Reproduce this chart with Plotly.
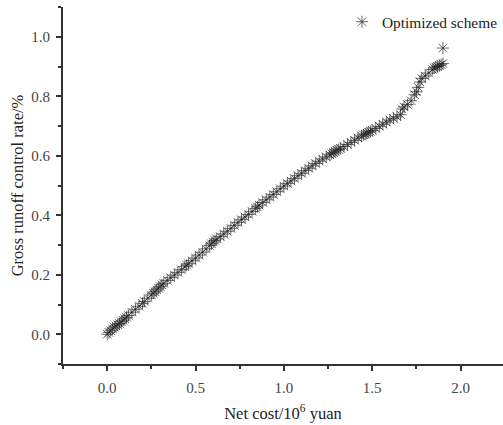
import plotly.graph_objects as go

net_cost = [0.00, 0.01, 0.02, 0.03, 0.04, 0.05, 0.06, 0.07, 0.08, 0.09, 0.10, 0.11, 0.12, 0.14, 0.16, 0.18,
            0.20, 0.21, 0.23, 0.25, 0.26, 0.27, 0.28, 0.29, 0.30, 0.31, 0.32, 0.34, 0.36, 0.38, 0.40, 0.42,
            0.44, 0.45, 0.46, 0.48, 0.50, 0.52, 0.54, 0.56, 0.58, 0.59, 0.60, 0.61, 0.62, 0.64, 0.66, 0.68,
            0.70, 0.72, 0.74, 0.76, 0.78, 0.80, 0.82, 0.84, 0.85, 0.86, 0.88, 0.90, 0.92, 0.94, 0.96, 0.98,
            1.00, 1.02, 1.04, 1.06, 1.08, 1.10, 1.12, 1.14, 1.16, 1.18, 1.20, 1.22, 1.24, 1.26, 1.27, 1.28,
            1.29, 1.30, 1.31, 1.32, 1.34, 1.36, 1.38, 1.40, 1.42, 1.44, 1.45, 1.46, 1.47, 1.48, 1.49, 1.50,
            1.52, 1.54, 1.56, 1.58, 1.60, 1.62, 1.64, 1.66, 1.67, 1.68, 1.70, 1.72, 1.74, 1.75, 1.76, 1.77,
            1.78, 1.80, 1.82, 1.84, 1.85, 1.86, 1.87, 1.88, 1.89, 1.90, 1.90]

runoff_rate = [0.000, 0.006, 0.012, 0.018, 0.024, 0.028, 0.032, 0.036, 0.042, 0.047, 0.052, 0.057, 0.063, 0.074, 0.084, 0.094,
               0.104, 0.110, 0.121, 0.132, 0.138, 0.143, 0.149, 0.155, 0.160, 0.166, 0.171, 0.181, 0.190, 0.199, 0.208, 0.217,
               0.227, 0.232, 0.237, 0.247, 0.256, 0.266, 0.276, 0.287, 0.298, 0.304, 0.310, 0.315, 0.320, 0.328, 0.337, 0.346,
               0.356, 0.366, 0.376, 0.385, 0.394, 0.403, 0.413, 0.423, 0.428, 0.434, 0.443, 0.452, 0.461, 0.470, 0.479, 0.489,
               0.498, 0.507, 0.515, 0.524, 0.533, 0.541, 0.550, 0.558, 0.566, 0.574, 0.582, 0.589, 0.596, 0.603, 0.607, 0.611,
               0.615, 0.618, 0.621, 0.625, 0.631, 0.638, 0.645, 0.652, 0.660, 0.666, 0.670, 0.673, 0.676, 0.679, 0.682, 0.685,
               0.692, 0.699, 0.706, 0.713, 0.720, 0.726, 0.731, 0.738, 0.757, 0.764, 0.772, 0.785, 0.805, 0.815, 0.830, 0.848,
               0.860, 0.868, 0.878, 0.890, 0.895, 0.898, 0.900, 0.903, 0.906, 0.910, 0.962]

x_ticks = [0.0, 0.5, 1.0, 1.5, 2.0]
y_ticks = [0.0, 0.2, 0.4, 0.6, 0.8, 1.0]

FONT = "Liberation Serif"
INK = "#333333"

fig = go.Figure()
fig.add_trace(go.Scatter(
    x=net_cost, y=runoff_rate, mode="markers", name="Optimized scheme",
    marker=dict(symbol="asterisk-open", size=10, color="rgba(40,40,40,0.7)",
                line=dict(width=1, color="rgba(40,40,40,0.7)")),
))

fig.update_layout(
    width=503, height=425,
    margin=dict(l=63, r=0, t=7, b=61),
    paper_bgcolor="white", plot_bgcolor="white",
    font=dict(family=FONT, size=15, color=INK),
    showlegend=True,
    legend=dict(x=1.0, y=1.005, xanchor="right", yanchor="top",
                font=dict(family=FONT, size=15.4, color="#222"),
                bgcolor="rgba(0,0,0,0)", itemwidth=30),
    xaxis=dict(range=[-0.25, 2.24], tickvals=x_ticks, ticktext=[f"{v:.1f}" for v in x_ticks],
               showline=True, linecolor=INK, linewidth=2, ticks="outside", ticklen=5, tickwidth=1.5,
               tickcolor=INK, showgrid=False, zeroline=False, ticklabelstandoff=4,
               tickfont=dict(size=15, family=FONT, color="#444"),
               minor=dict(tickvals=[-0.25, 0.25, 0.75, 1.25, 1.75], ticks="outside", ticklen=3, tickwidth=1.5, tickcolor=INK),
               title=dict(text="Net cost/10<sup>6</sup> yuan", font=dict(size=16.5, family=FONT, color="#222"), standoff=12)),
    yaxis=dict(range=[-0.1, 1.1], tickvals=y_ticks, ticktext=[f"{v:.1f}" for v in y_ticks],
               showline=True, linecolor=INK, linewidth=2, ticks="outside", ticklen=5, tickwidth=1.5,
               tickcolor=INK, showgrid=False, zeroline=False, ticklabelstandoff=3,
               tickfont=dict(size=15, family=FONT, color="#444"),
               minor=dict(tickvals=[-0.1, 0.1, 0.3, 0.5, 0.7, 0.9, 1.1], ticks="outside", ticklen=3, tickwidth=1.5, tickcolor=INK),
               title=dict(text="Gross runoff control rate/%", font=dict(size=16.5, family=FONT, color="#222"), standoff=3)),
)

fig.write_html("out.html")
